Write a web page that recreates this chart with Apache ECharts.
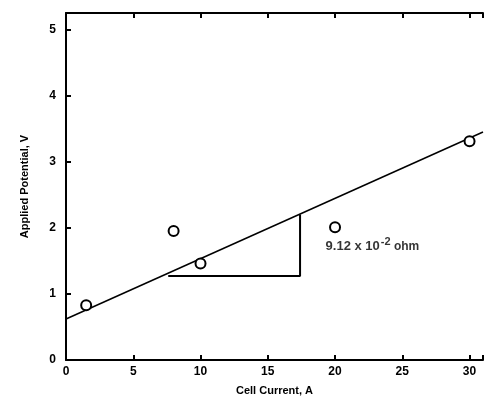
<!DOCTYPE html>
<html><head><meta charset="utf-8">
<script src="https://cdn.jsdelivr.net/npm/echarts@6/dist/echarts.min.js"></script>
<style>html,body{margin:0;padding:0;background:#fff}#c{width:486px;height:410px}</style>
</head><body><div id="c"></div>
<script>
const xTicks = [0, 5, 10, 15, 20, 25, 30];
const yTicks = [0, 1, 2, 3, 4, 5];
const pointsX = [1.5, 8, 10, 20, 30];
const pointsY = [0.83, 1.95, 1.46, 2.01, 3.31];
const fitX = [0, 31];
const fitY = [0.62, 3.45];
const triX = [7.6, 17.4, 17.4];
const triY = [1.27, 1.27, 2.2];
const annX = [19.3];
const annY = [1.72];
const annText = '9.12 x 10';
const annSup = '-2';
const annUnit = ' ohm';

const chart = echarts.init(document.getElementById('c'));
const font = 'Liberation Sans';
const zip = (a, b) => a.map((v, i) => [v, b[i]]);
chart.setOption({
  animation: false,
  grid: {left: 66, top: 13, right: 0, bottom: 50},
  xAxis: [{
    type: 'value', min: 0, max: 31, interval: 5, position: 'bottom',
    axisLine: {show: true, lineStyle: {color: '#000', width: 2}},
    axisTick: {show: true, inside: true, length: 5, lineStyle: {color: '#000', width: 2}},
    axisLabel: {color: '#000', fontFamily: font, fontWeight: 'bold', fontSize: 12, margin: 6,
      formatter: v => xTicks.includes(v) ? String(v) : ''},
    splitLine: {show: false},
    name: 'Cell Current, A', nameLocation: 'middle', nameGap: 25,
    nameTextStyle: {color: '#000', fontFamily: font, fontWeight: 'bold', fontSize: 11}
  }, {
    type: 'value', min: 0, max: 31, interval: 5, position: 'top',
    axisLine: {show: true, lineStyle: {color: '#000', width: 2}},
    axisTick: {show: true, inside: true, length: 5, lineStyle: {color: '#000', width: 2}},
    axisLabel: {show: false}, splitLine: {show: false}
  }],
  yAxis: [{
    type: 'value', min: 0, max: 5.25, interval: 1,
    axisLine: {show: true, lineStyle: {color: '#000', width: 2}},
    axisTick: {show: true, inside: true, length: 5, lineStyle: {color: '#000', width: 2}},
    axisLabel: {color: '#000', fontFamily: font, fontWeight: 'bold', fontSize: 12, margin: 10,
      formatter: v => yTicks.includes(v) ? String(v) : ''},
    splitLine: {show: false},
    name: 'Applied Potential, V', nameLocation: 'middle', nameGap: 36,
    nameTextStyle: {color: '#000', fontFamily: font, fontWeight: 'bold', fontSize: 11}
  }],
  series: [{
    type: 'line', data: zip(fitX, fitY), symbol: 'none',
    lineStyle: {color: '#000', width: 1.5}, silent: true
  }, {
    type: 'line', data: zip(triX, triY), symbol: 'none',
    lineStyle: {color: '#000', width: 2}, silent: true
  }, {
    type: 'scatter', data: zip(pointsX, pointsY), symbol: 'circle', symbolSize: 10, z: 5,
    itemStyle: {color: '#fff', borderColor: '#000', borderWidth: 2, opacity: 1}
  }, {
    type: 'scatter', data: zip(annX, annY), symbolSize: 0,
    label: {show: true, position: 'right', distance: 0,
      formatter: '{a|' + annText + '}{s|' + annSup + '}{u|' + annUnit + '}',
      rich: {
        a: {color: '#000', fontFamily: font, fontWeight: 'bold', fontSize: 13},
        s: {color: '#000', fontFamily: font, fontWeight: 'bold', fontSize: 11, verticalAlign: 'bottom', padding: [0, 0, 8, 1]},
        u: {color: '#000', fontFamily: font, fontWeight: 'bold', fontSize: 12}
      }}
  }]
});
</script></body></html>
